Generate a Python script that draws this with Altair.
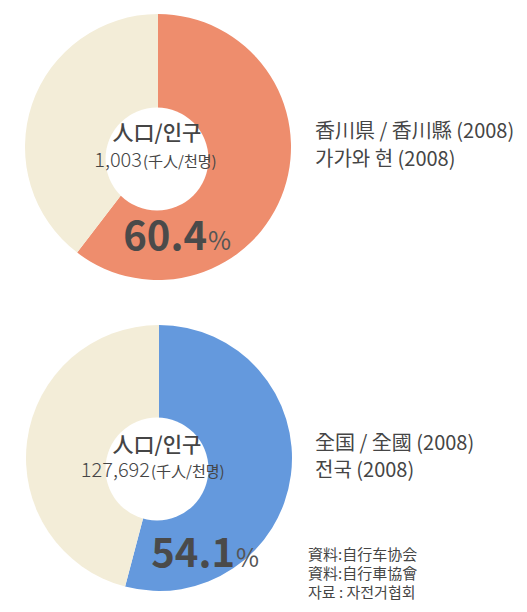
import altair as alt
import pandas as pd

# ---- data ----
regions = ["香川県", "全国"]
shares = [60.4, 54.1]            # share (%)
population = ["1,003", "127,692"]
pct_labels = ["60.4", "54.1"]
unit_label = "(千人/천명)"
center_title = "人口/인구"
right_line1 = ["香川県 / 香川縣 (2008)", "全国 / 全國 (2008)"]
right_line2 = ["가가와 현 (2008)", "전국 (2008)"]
source_lines = ["資料:自行车协会", "資料:自行車協會", "자료 : 자전거협회"]
accent_colors = ["#EE8D6D", "#6499DD"]
rest_color = "#F3EDD8"

FONT = "Noto Sans CJK KR"
TXT = "#454545"

W, H = 511, 596
OFF = 8  # page margin: positions below measured in page pixels
layers = []

layout = [
    dict(cx=158, cy=147, hy=159, num_x=142, pct_x=207, pct_y=250, t_y=134, n_y=161, r1=133, lab_y=[132, 160]),
    dict(cx=159, cy=458, hy=469, num_x=150, pct_x=235, pct_y=567, t_y=446, n_y=471, r1=133, lab_y=[444, 471]),
]


def txt(s, x, y, size, weight=400, align="left", baseline="middle", color=TXT):
    return alt.Chart(pd.DataFrame({"t": [s]})).mark_text(
        font=FONT, fontSize=size, fontWeight=weight, color=color, align=align, baseline=baseline
    ).encode(text="t:N", x=alt.value(x - OFF), y=alt.value(y - OFF))


for i, L in enumerate(layout):
    df = pd.DataFrame({
        "part": ["share", "rest"],
        "value": [shares[i], 100 - shares[i]],
        "order": [0, 1],
    })
    arc = alt.Chart(df).mark_arc(outerRadius=L["r1"], innerRadius=0).encode(
        theta=alt.Theta("value:Q", stack=True),
        order=alt.Order("order:Q"),
        color=alt.Color("part:N",
                        scale=alt.Scale(domain=["share", "rest"], range=[accent_colors[i], rest_color]),
                        legend=None),
        x=alt.value(L["cx"] - OFF),
        y=alt.value(L["cy"] - OFF),
    )
    hole = alt.Chart(pd.DataFrame({"r": [1]})).mark_circle(color="white", opacity=1, size=10600).encode(
        x=alt.value(157 - OFF), y=alt.value(L["hy"] - OFF)
    )
    layers += [
        arc, hole,
        txt(center_title, 157, L["t_y"], 21, 500, "center"),
        txt(population[i], L["num_x"], L["n_y"], 20, 300, "right"),
        txt(unit_label, L["num_x"] + 1, L["n_y"] + 1, 15, 400, "left"),
        txt(pct_labels[i], L["pct_x"], L["pct_y"], 40, "bold", "right", "alphabetic", "#4a4a4a"),
        txt("%", L["pct_x"] + 1, L["pct_y"], 25, 400, "left", "alphabetic", "#555555"),
        txt(right_line1[i], 315, L["lab_y"][0], 20, 400),
        txt(right_line2[i], 315, L["lab_y"][1], 20, 400),
    ]

for k, (s, y) in enumerate(zip(source_lines, [555, 574, 593])):
    layers.append(txt(s, 308, y, 15, 400))

chart = alt.layer(*layers).properties(width=W, height=H, padding=0, autosize="none").configure_view(
    stroke=None).resolve_scale(color="independent")

chart.save("out.html", embed_options={"renderer": "svg", "actions": False})
